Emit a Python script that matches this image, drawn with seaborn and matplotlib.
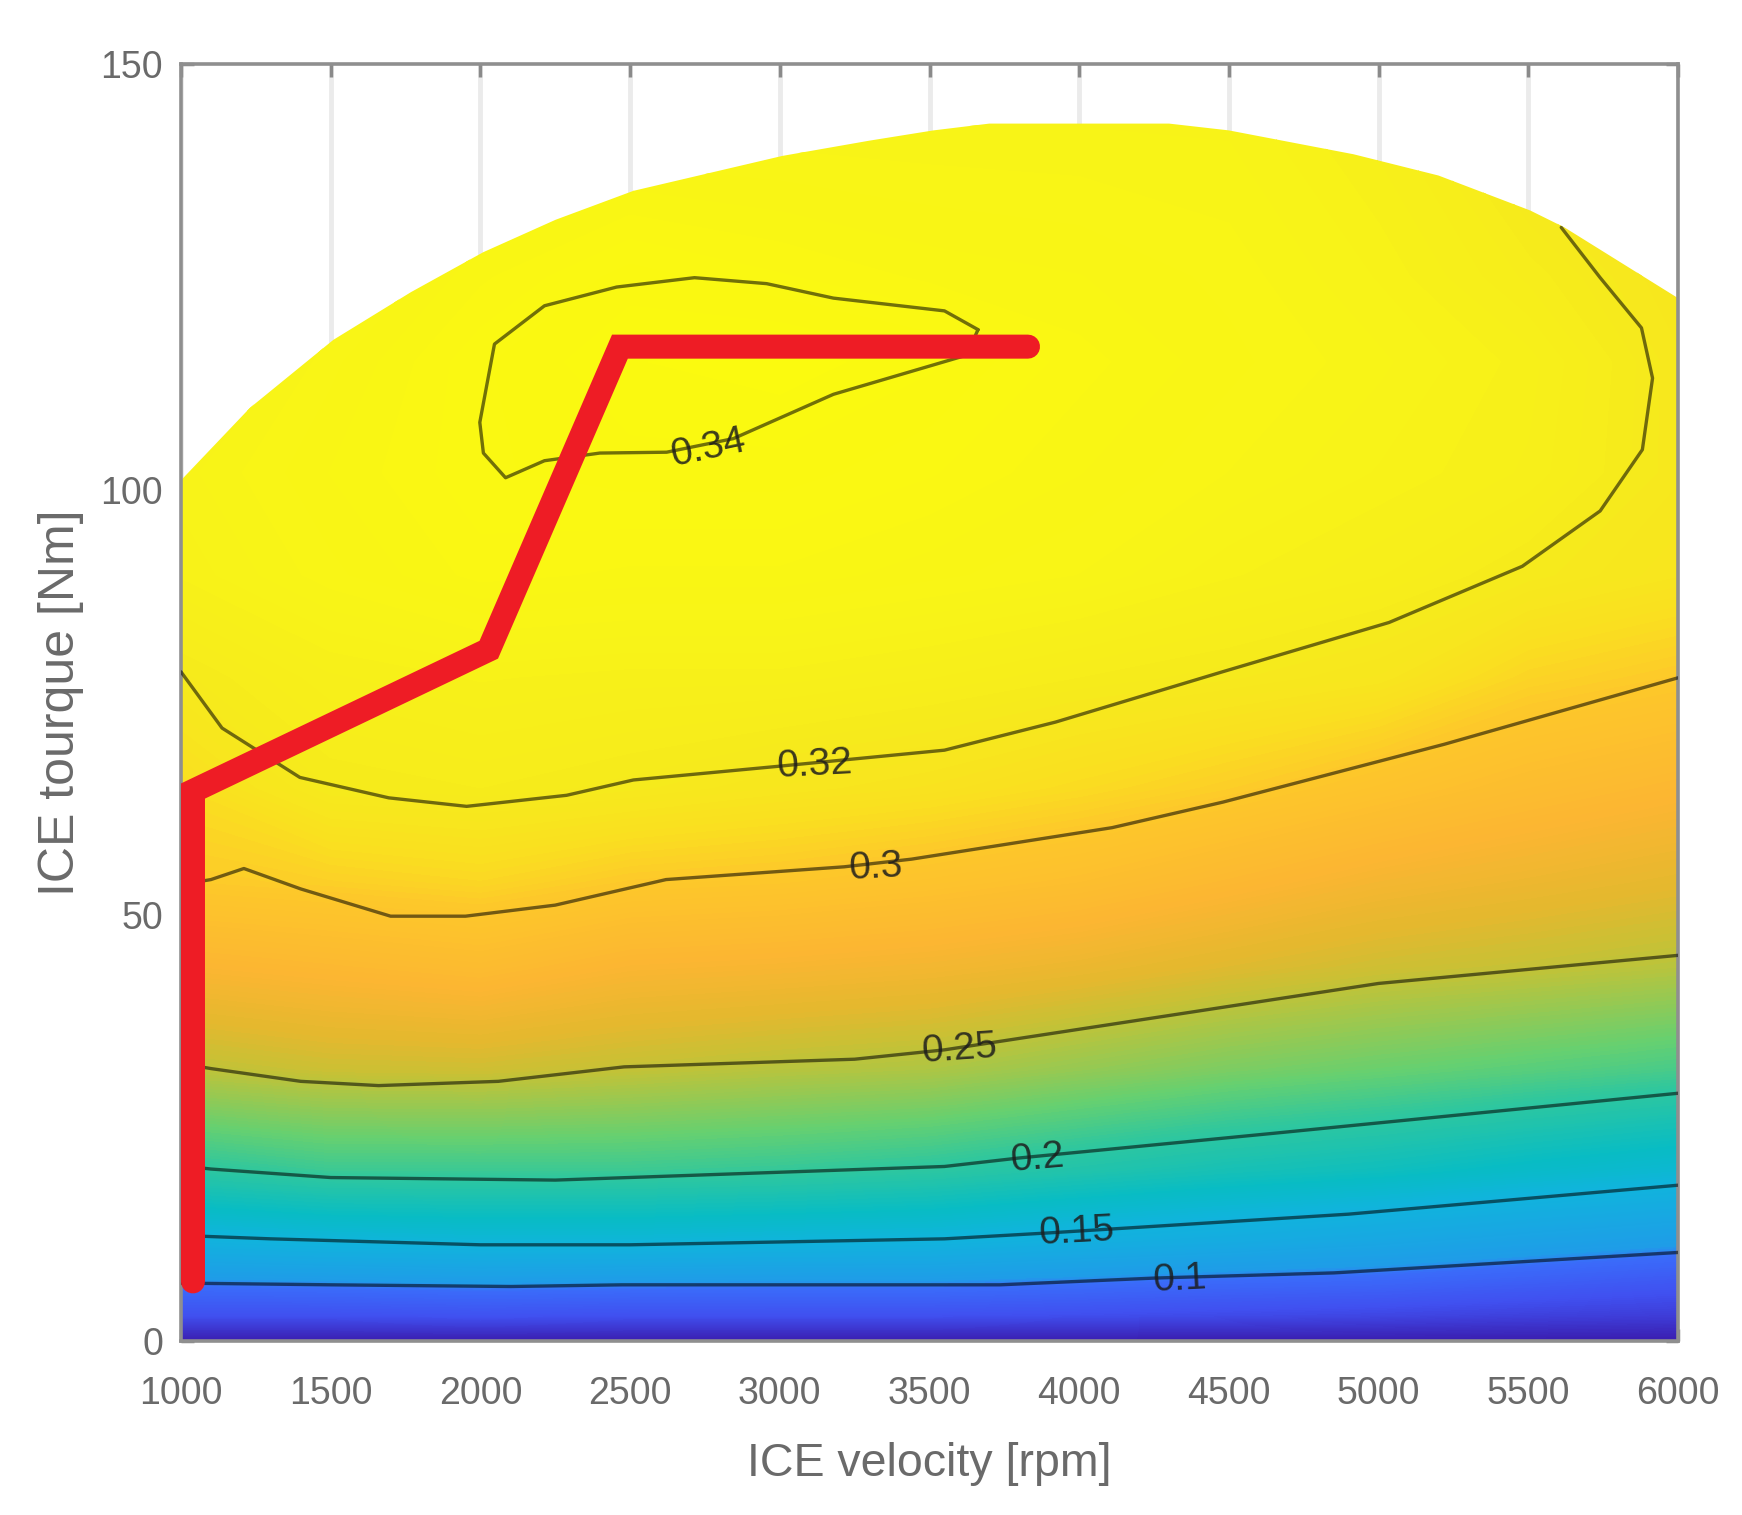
import numpy as np
import pandas as pd
import matplotlib
matplotlib.use('Agg')
import matplotlib.pyplot as plt
from matplotlib.colors import LinearSegmentedColormap
from matplotlib.patches import Polygon
import seaborn as sns

# efficiency map
speed_grid = [1000, 1500, 2000, 2500, 3000, 3500, 4000, 4500, 5000, 5500, 6000]
torque_grid = [0, 3, 7, 12, 20, 32, 44, 54, 65, 78, 90, 102, 115, 125, 145]
eff_0 = [.03, .03, .03, .03, .03, .03, .03, .03, .03, .03, .03]
eff_3 = [.07, .07, .072, .07, .07, .07, .068, .065, .062, .058, .055]
eff_7 = [.102, .104, .107, .105, .104, .104, .10, .095, .092, .085, .078]
eff_12 = [.146, .152, .155, .155, .152, .15, .142, .135, .127, .118, .11]
eff_20 = [.196, .204, .204, .204, .2015, .197, .189, .181, .175, .166, .158]
eff_32 = [.2475, .253, .254, .25, .246, .243, .235, .227, .221, .215, .209]
eff_44 = [.277, .281, .285, .277, .275, .272, .267, .26, .254, .2503, .246]
eff_54 = [.3003, .303, .306, .30, .298, .294, .289, .281, .273, .268, .263]
eff_65 = [.309, .3205, .322, .3197, .316, .313, .308, .302, .294, .286, .28]
eff_78 = [.32, .326, .328, .327, .327, .325, .322, .3195, .316, .305, .30]
eff_90 = [.328, .333, .337, .336, .336, .334, .332, .328, .325, .32, .315]
eff_102 = [.33, .335, .339, .34, .34, .338, .335, .332, .329, .326, .318]
eff_115 = [.325, .333, .339, .342, .343, .341, .337, .334, .331, .327, .318]
eff_125 = [.32, .33, .336, .34, .338, .336, .335, .333, .329, .323, .316]
eff_145 = [.31, .32, .33, .33, .33, .33, .33, .33, .325, .315, .31]

# wide open throttle curve
limit_speed = [1000, 1230, 1509, 1768, 2010, 2251, 2511, 3008, 3300, 3513, 3700, 4300, 4500, 4916, 5200, 5506, 5621, 6000]
limit_torque = [101.1, 109.6, 117.6, 123.2, 127.9, 131.7, 135.1, 139.2, 141.0, 142.2, 143, 143, 142.2, 139.4, 136.9, 132.8, 130.8, 122.5]

# iso-efficiency lines
c010_x = [1000, 1500, 2102, 2473, 3000, 3735, 4257, 4851, 6000]
c010_y = [6.8, 6.6, 6.4, 6.6, 6.6, 6.6, 7.4, 8.0, 10.4]
c015_x = [1000, 1300, 2000, 2500, 3550, 3900, 4900, 6000]
c015_y = [12.4, 12.0, 11.3, 11.3, 12.0, 12.7, 14.9, 18.3]
c020_x = [1000, 1100, 1500, 2250, 3550, 3800, 4650, 6000]
c020_y = [20.6, 20.2, 19.2, 18.9, 20.5, 21.5, 24.4, 29.1]
c025_x = [1000, 1100, 1400, 1660, 2060, 2480, 3250, 3550, 4480, 5000, 6000]
c025_y = [32.6, 32.0, 30.5, 30.0, 30.5, 32.2, 33.1, 34.2, 39.2, 42.0, 45.3]
c030_x = [1000, 1100, 1210, 1400, 1700, 1950, 2250, 2620, 3215, 3440, 4110, 4480, 5220, 6000]
c030_y = [53.6, 54.2, 55.5, 53.1, 49.9, 49.9, 51.2, 54.2, 55.7, 56.6, 60.3, 63.3, 70.1, 77.9]
c032_x = [1000, 1137, 1397, 1694, 1954, 2288, 2511, 2993, 3550, 3921, 4478, 5035, 5480, 5740, 5881, 5915, 5878, 5740, 5610]
c032_y = [78.6, 72.0, 66.2, 63.8, 62.8, 64.1, 65.9, 67.5, 69.4, 72.7, 78.6, 84.4, 91.0, 97.5, 104.7, 113.1, 119.0, 124.9, 130.8]
c034_x = [3662, 3550, 3179, 2956, 2715, 2455, 2214, 2047, 1998, 2010, 2084, 2214, 2399, 2622, 2845, 3179, 3624, 3662]
c034_y = [118.8, 121.0, 122.5, 124.2, 124.9, 123.8, 121.6, 117.1, 107.9, 104.3, 101.4, 103.4, 104.3, 104.4, 106.0, 111.2, 115.8, 118.8]

contour_x = [c010_x, c015_x, c020_x, c025_x, c030_x, c032_x, c034_x]
contour_y = [c010_y, c015_y, c020_y, c025_y, c030_y, c032_y, c034_y]

label_text = ['0.1', '0.15', '0.2', '0.25', '0.3', '0.32', '0.34']
label_x = [4337, 3992, 3862, 3602, 3320, 3116, 2760]
label_y = [7.2, 12.8, 21.4, 34.2, 55.6, 67.7, 104.8]
label_rot = [3, 3, 5, 4, 3, 3, 12]

# operating line
path_speed = [1040, 1040, 2028, 2466, 3829]
path_torque = [7.0, 64.6, 81.2, 116.8, 116.8]

x_ticks = [1000, 1500, 2000, 2500, 3000, 3500, 4000, 4500, 5000, 5500, 6000]
y_ticks = [0, 50, 100, 150]

sns.set_theme(style='white')
plt.rcParams['font.family'] = ['Liberation Sans', 'DejaVu Sans']

eff_table = np.array([eff_0, eff_3, eff_7, eff_12, eff_20, eff_32, eff_44, eff_54,
                      eff_65, eff_78, eff_90, eff_102, eff_115, eff_125, eff_145])

# parula-ish map, stops
stops = [(.03, '#3a1cae'), (.07, '#4050f0'), (.098, '#3a6cfa'), (.105, '#1f9ce8'),
         (.15, '#10b4dc'), (.17, '#08bcc4'), (.2, '#2fc79e'), (.22, '#66d070'),
         (.25, '#c4c236'), (.262, '#e4b82e'), (.278, '#fcb632'), (.30, '#fdc82a'),
         (.31, '#fadf20'), (.32, '#f6ea1c'), (.33, '#f8f318'), (.345, '#fbfb0e')]
vmin, vmax = stops[0][0], stops[-1][0]
parula_like = LinearSegmentedColormap.from_list(
    'parula_like', [((v - vmin) / (vmax - vmin), c) for v, c in stops], N=512)

fig = plt.figure(figsize=(17.42, 15.15), dpi=100)
ax = fig.add_axes([181 / 1742, 1 - 1341 / 1515, 1497 / 1742, 1277 / 1515])

field = ax.contourf(speed_grid, torque_grid, eff_table, levels=np.linspace(vmin, vmax, 220),
                    cmap=parula_like, vmin=vmin, vmax=vmax, antialiased=False, zorder=1)
limit = Polygon(list(zip(limit_speed, limit_torque)) + [(6000, 0), (1000, 0)],
                closed=True, transform=ax.transData, facecolor='none', edgecolor='none')
ax.add_patch(limit)
field.set_clip_path(limit)

for xs, ys in zip(contour_x, contour_y):
    line = pd.DataFrame({'speed': xs, 'torque': ys})
    sns.lineplot(data=line, x='speed', y='torque', sort=False, estimator=None,
                 color='black', alpha=0.55, linewidth=2.4, ax=ax, zorder=3)

for txt, x, y, r in zip(label_text, label_x, label_y, label_rot):
    ax.text(x, y, txt, fontsize=28, color='#1c1c1c', alpha=0.85, rotation=r,
            ha='center', va='center', zorder=4)

path = pd.DataFrame({'speed': path_speed, 'torque': path_torque})
sns.lineplot(data=path, x='speed', y='torque', sort=False, estimator=None, color='#ee1c25',
             linewidth=17.3, ax=ax, zorder=5, solid_joinstyle='miter', solid_capstyle='round')

ax.set_xlim(1000, 6000)
ax.set_ylim(0, 150)
ax.set_xticks(x_ticks)
ax.set_yticks(y_ticks)
ax.grid(axis='x', color='#ebebeb', linewidth=3.5)
ax.set_axisbelow(True)
ax.tick_params(axis='both', direction='in', length=9, width=2.5, color='#8a8a8a',
               labelcolor='#6a6a6a', labelsize=27, top=True, right=True, bottom=True, left=True)
ax.tick_params(axis='x', pad=25)
ax.tick_params(axis='y', pad=13)
for spine in ax.spines.values():
    spine.set_color('#8f8f8f')
    spine.set_linewidth(2.6)

ax.set_xlabel('ICE velocity [rpm]', fontsize=33.5, color='#6a6a6a', labelpad=22)
ax.set_ylabel('ICE tourque [Nm]', fontsize=36, color='#6a6a6a', labelpad=12)

fig.savefig('out.png', dpi=100)
